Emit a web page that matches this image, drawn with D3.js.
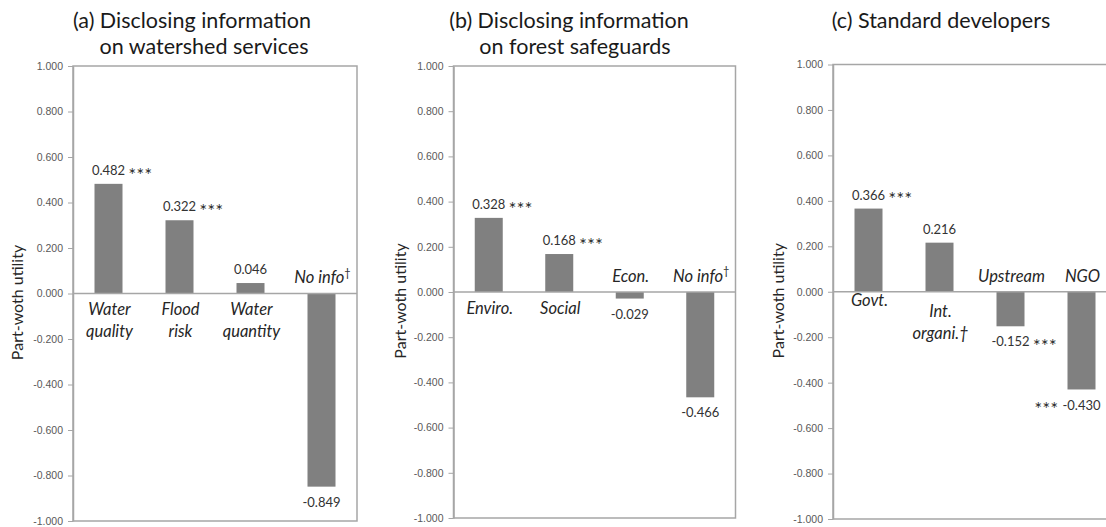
<!DOCTYPE html>
<html>
<head>
<meta charset="utf-8">
<script src="https://cdn.jsdelivr.net/npm/d3@7"></script>
<style>
  body { margin: 0; background: #fff; }
  svg { display: block; }
</style>
</head>
<body>
<svg id="chart" width="1106" height="527"></svg>
<script>
// values
var titlesA = ["(a) Disclosing information", "on watershed services"];
var catsA = ["Water|quality", "Flood|risk", "Water|quantity", "No info†"];
var valsA = [0.482, 0.322, 0.046, -0.849];
var starsA = ["after", "after", "", ""];

var titlesB = ["(b) Disclosing information", "on forest safeguards"];
var catsB = ["Enviro.", "Social", "Econ.", "No info†"];
var valsB = [0.328, 0.168, -0.029, -0.466];
var starsB = ["after", "after", "", ""];

var titlesC = ["(c) Standard developers"];
var catsC = ["Govt.", "Int.|organi.†", "Upstream", "NGO"];
var valsC = [0.366, 0.216, -0.152, -0.430];
var starsC = ["after", "", "after", "before"];

var yTicks = [1, 0.8, 0.6, 0.4, 0.2, 0, -0.2, -0.4, -0.6, -0.8, -1];
var yLabel = "Part-woth utility";

// layout of the three panels
var panels = [
  { titles: titlesA, cats: catsA, vals: valsA, stars: starsA,
    left: 73, width: 284, top: 66, bottom: 521, labelX: 17, titleX: [192, 204], catShift: [0, 0, 0, 0] },
  { titles: titlesB, cats: catsB, vals: valsB, stars: starsB,
    left: 453.5, width: 282, top: 66, bottom: 518, labelX: 400, titleX: [569, 575], catShift: [0, 0, 0, 0] },
  { titles: titlesC, cats: catsC, vals: valsC, stars: starsC,
    left: 833, width: 284, top: 64.5, bottom: 519, labelX: 778, titleX: [941], catShift: [-8, 3, 0, 0] }
];

var fmt = d3.formatLocale({decimal: ".", thousands: ",", grouping: [3], currency: ["", ""], minus: "-"}).format(".3f");

var svg = d3.select("#chart");
var grey = "#a6a6a6";
var barW = 28;
var font = "Lato";

panels.forEach(function(p) {
  var g = svg.append("g");
  var x = d3.scaleBand().domain(p.cats).range([p.left, p.left + p.width]).padding(0);
  var y = d3.scaleLinear().domain([-1, 1]).range([p.bottom, p.top]);

  // titles
  g.selectAll(".title")
    .data(p.titles)
    .enter()
    .append("text")
    .attr("x", function(d, i) { return p.titleX[i]; })
    .attr("y", function(d, i) { return 20 + i * 26; })
    .attr("dy", "0.35em")
    .attr("text-anchor", "middle")
    .attr("font-family", font)
    .attr("font-size", "21.5px")
    .attr("fill", "#1a1a1a")
    .text(function(d) { return d; });

  // plot box
  g.append("rect")
    .attr("x", p.left).attr("y", p.top)
    .attr("width", p.width).attr("height", p.bottom - p.top)
    .attr("fill", "none").attr("stroke", grey).attr("stroke-width", 1.5);

  // y axis
  var ax = g.append("g")
    .attr("transform", "translate(" + p.left + ",0)")
    .call(d3.axisLeft(y).tickValues(yTicks).tickSize(5).tickSizeOuter(0).tickPadding(5).tickFormat(fmt));
  ax.select(".domain").attr("stroke", grey).attr("stroke-width", 1.5);
  ax.selectAll(".tick line").attr("stroke", grey);
  ax.selectAll(".tick text")
    .attr("font-family", "Liberation Sans")
    .attr("font-size", "10.5px")
    .attr("fill", "#595959");

  g.append("text")
    .attr("transform", "translate(" + p.labelX + "," + (y(0) + 9) + ") rotate(-90)")
    .attr("dy", "0.35em")
    .attr("text-anchor", "middle")
    .attr("font-family", font)
    .attr("font-size", "16px")
    .attr("fill", "#262626")
    .text(yLabel);

  // bars
  var data = p.cats.map(function(c, i) { return { cat: c, val: p.vals[i], stars: p.stars[i], shift: p.catShift[i] }; });

  g.selectAll(".bar")
    .data(data)
    .enter()
    .append("rect")
    .attr("x", function(d) { return x(d.cat) + (x.bandwidth() - barW) / 2; })
    .attr("y", function(d) { return y(Math.max(0, d.val)); })
    .attr("width", barW)
    .attr("height", function(d) { return Math.abs(y(d.val) - y(0)); })
    .attr("fill", "#808080");

  // zero line
  g.append("line")
    .attr("x1", p.left).attr("x2", p.left + p.width)
    .attr("y1", y(0)).attr("y2", y(0))
    .attr("stroke", grey).attr("stroke-width", 1.5);

  // value labels
  data.forEach(function(d) {
    var cx = x(d.cat) + x.bandwidth() / 2;
    var cy = d.val >= 0 ? y(d.val) - 13.5 : y(d.val) + 15.5;
    var t = g.append("text")
      .attr("x", cx).attr("y", cy).attr("dy", "0.35em")
      .attr("text-anchor", "middle")
      .attr("font-family", font)
      .attr("font-size", "13px")
      .attr("fill", "#333")
      .text(fmt(d.val));
    if (d.stars) {
      var w = t.node().getComputedTextLength();
      g.append("text")
        .attr("x", d.stars == "after" ? cx + w / 2 + 3.5 : cx - w / 2 - 4)
        .attr("y", cy).attr("dy", "0.35em")
        .attr("text-anchor", d.stars == "after" ? "start" : "end")
        .attr("font-family", "DejaVu Sans")
        .attr("font-size", "9.5px")
        .attr("fill", "#333")
        .text("\u2217\u2217\u2217");
    }
  });

  // category labels
  data.forEach(function(d) {
    var cx = x(d.cat) + x.bandwidth() / 2 + 1;
    var lines = d.cat.split("|");
    lines.forEach(function(line, i) {
      var cy = d.val >= 0 ? y(0) + 16 + i * 22 + d.shift : y(0) - 16;
      var t = g.append("text")
        .attr("x", cx).attr("y", cy).attr("dy", "0.35em")
        .attr("text-anchor", "middle")
        .attr("font-family", font)
        .attr("font-style", "italic")
        .attr("font-size", "16.5px")
        .attr("fill", "#262626");
      if (lines.length == 1 && line.slice(-1) == "†") {
        t.append("tspan").text(line.slice(0, -1));
        t.append("tspan").attr("font-size", "11px").attr("font-style", "normal").attr("dy", "-0.6em").text("†");
      } else {
        t.text(line);
      }
    });
  });
});
</script>
</body>
</html>
